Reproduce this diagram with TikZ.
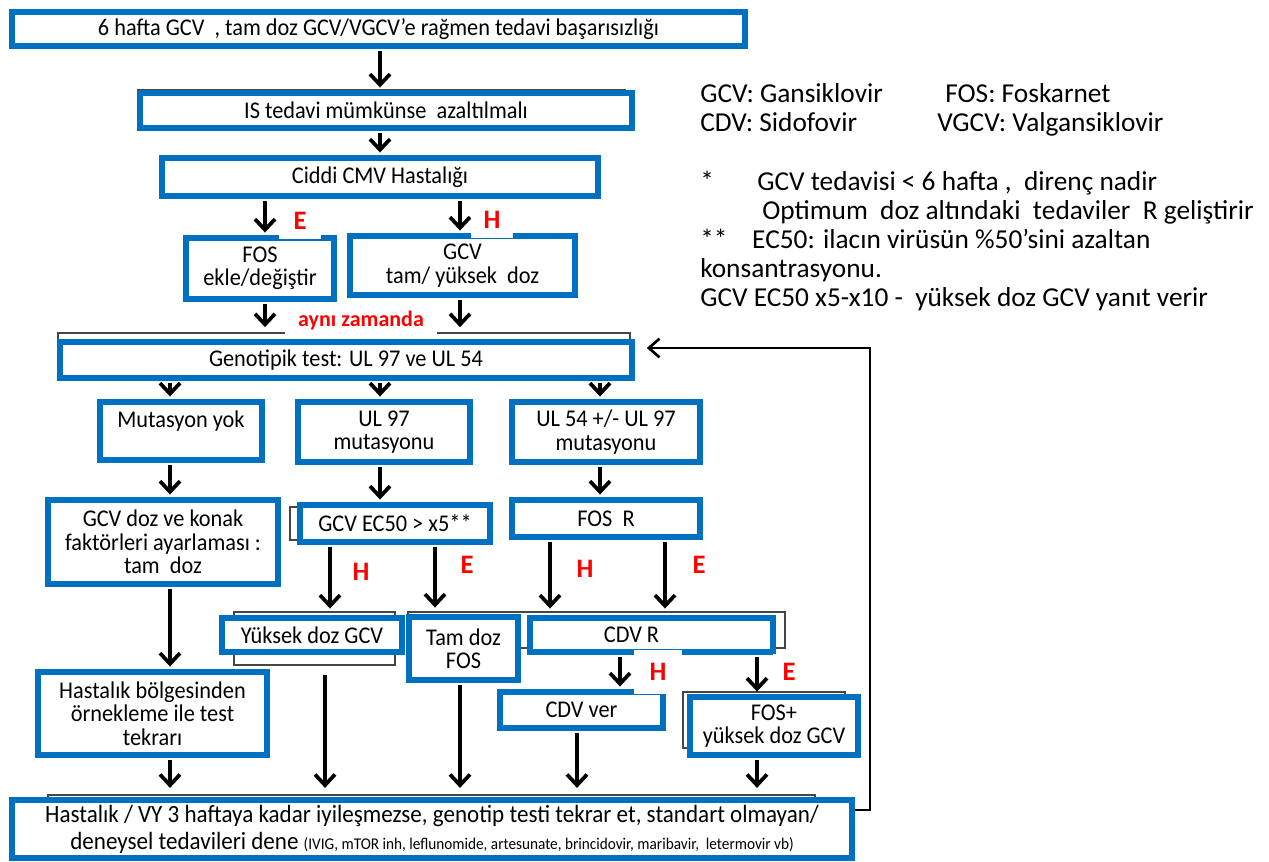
\documentclass[tikz,border=0pt]{standalone}
\usepackage{fontspec}
\setmainfont{Carlito}
\newfontfamily\boxfont{Carlito}[FakeStretch=0.93]
\usetikzlibrary{arrows.meta,calc}
\definecolor{bblue}{RGB}{0,112,192}
\definecolor{artg}{RGB}{70,70,70}
\definecolor{lred}{RGB}{255,0,0}
\newcommand\bx[7][]{\node[box,#1,minimum width={(#5-#3)*0.75pt},minimum height={(#6-#4)*0.75pt}] (#2) at ({(#3+#5)/2},{(#4+#6)/2}) {#7};}
\begin{document}
\begin{tikzpicture}[x=0.75pt,y=-0.75pt,
 box/.style={draw=bblue, line width=4.2pt, fill=white, inner sep=0pt, align=center, font=\boxfont\fontsize{18}{17.5}\selectfont},
 ghost/.style={draw=artg, line width=1pt},
 arr/.style={-{Straight Barb[length=8pt,width=15pt]}, line width=2.8pt, shorten <=2pt, shorten >=2pt},
 fb/.style={-{Straight Barb[length=8pt,width=14pt,line width=2pt]}, line width=2pt},
 lab/.style={text=lred, font=\bfseries\fontsize{20}{20}\selectfont, fill=white, minimum width=31.5pt, minimum height=27pt, inner sep=0pt},
 leg/.style={anchor=base west, inner sep=0pt, font=\fontsize{20.5}{22}\selectfont}
]
\useasboundingbox[fill=white] (0,0) rectangle (1269,861);

% faint frames behind some boxes
\draw[ghost] (138,90) rectangle (625,126);
\draw[ghost] (58,333) rectangle (630,372);
\draw[ghost] (98,404) rectangle (255,457);
\draw[ghost] (510,404) rectangle (695,460);
\draw[ghost] (290,507) rectangle (480,540);
\draw[ghost] (234,612) rectangle (395,665);
\draw[ghost] (408,612) rectangle (785,648);
\draw[ghost] (683,692) rectangle (845,748);
\draw[ghost] (48,795) rectangle (815,835);

% column coordinates
\coordinate (xA) at (170,0);
\coordinate (xB) at (265,0);
\coordinate (xC) at (460,0);
\coordinate (xD) at (380,0);
\coordinate (xE) at (330,0);
\coordinate (xF) at (435,0);
\coordinate (xG) at (550,0);
\coordinate (xH) at (665,0);
\coordinate (xI) at (620,0);
\coordinate (xJ) at (757,0);
\coordinate (xK) at (577,0);
\coordinate (xL) at (325,0);
\coordinate (xM) at (600,0);
\coordinate (fbx) at (870,600);

% boxes
\bx{b1}{12}{12}{745}{46}{6 hafta GCV~~, tam doz GCV/VGCV’e rağmen tedavi başarısızlığı}
\bx{b2}{140}{93}{632}{128}{IS tedavi mümkünse~ azaltılmalı}
\bx{b3}{162}{158}{598}{196}{Ciddi CMV Hastalığı}
\bx{fos}{186}{238}{334}{299}{FOS\\ekle/değiştir}
\bx{gcv}{350}{236}{575}{295}{GCV\\tam/ yüksek~ doz}
\bx{geno}{60}{342}{632}{378}{Genotipik test: UL 97 ve UL 54}
\bx{mut}{100}{402}{262}{460}{Mutasyon yok\\\mbox{}}
\bx{ul97}{298}{402}{470}{462}{UL 97\\mutasyonu}
\bx{ul54}{512}{402}{700}{462}{UL 54 +/- UL 97\\mutasyonu}
\bx{gcvdoz}{48}{500}{278}{584}{GCV doz ve konak\\faktörleri ayarlaması :\\tam~ doz}
\bx{ec50}{300}{505}{490}{542}{GCV EC50 > x5**}
\bx{fosr}{512}{500}{700}{537}{FOS~ R}
\bx{yuk}{222}{618}{402}{652}{Yüksek doz GCV}
\bx{tam}{409}{617}{518}{680}{Tam doz\\FOS}
\bx{cdvr}{530}{618}{773}{652}{CDV R\hspace*{30pt}}
\bx{hast}{38}{672}{267}{755}{Hastalık bölgesinden\\örnekleme ile test\\tekrarı}
\bx{cdvver}{500}{692}{663}{728}{CDV ver}
\bx{fosplus}{690}{697}{858}{755}{FOS+\\yüksek doz GCV}
\bx[font=\boxfont\fontsize{18.6}{20.25}\selectfont]{bot}{12}{800}{852}{858}{Hastalık / VY 3 haftaya kadar iyileşmezse, genotip testi tekrar et, standart olmayan/\\deneysel tedavileri dene {\fontsize{12.3}{14}\selectfont (IVIG, mTOR inh, leflunomide, artesunate, brincidovir, maribavir,~ letermovir vb)}}

% connectors
\draw[arr] (b1.south -| xD) -- (b2.north -| xD);
\draw[arr] (b2.south -| xD) -- (b3.north -| xD);
\draw[arr] (b3.south -| xB) -- (fos.north -| xB);
\draw[arr] (b3.south -| xC) -- (gcv.north -| xC);
\draw[arr, shorten >=9pt] (fos.south -| xB) -- (geno.north -| xB);
\draw[arr, shorten >=9pt] (gcv.south -| xC) -- (geno.north -| xC);
\draw[arr] (geno.south -| xA) -- (mut.north -| xA);
\draw[arr] (geno.south -| xD) -- (ul97.north -| xD);
\draw[arr] (geno.south -| xM) -- (ul54.north -| xM);
\draw[arr] (mut.south -| xA) -- (gcvdoz.north -| xA);
\draw[arr] (ul97.south -| xD) -- (ec50.north -| xD);
\draw[arr] (ul54.south -| xM) -- (fosr.north -| xM);
\draw[arr, shorten >=5pt] (ec50.south -| xE) -- (yuk.north -| xE);
\draw[arr, shorten >=5pt] (ec50.south -| xF) -- (tam.north -| xF);
\draw[arr, shorten >=5pt] (fosr.south -| xG) -- (cdvr.north -| xG);
\draw[arr, shorten >=5pt] (fosr.south -| xH) -- (cdvr.north -| xH);
\draw[arr] (gcvdoz.south -| xA) -- (hast.north -| xA);
\draw[arr] (cdvr.south -| xI) -- (cdvver.north -| xI);
\draw[arr] (cdvr.south -| xJ) -- (fosplus.north -| xJ);
\draw[arr, shorten >=7pt] (hast.south -| xA) -- (bot.north -| xA);
\draw[arr, shorten <=15pt, shorten >=7pt] (yuk.south -| xL) -- (bot.north -| xL);
\draw[arr, shorten >=7pt] (tam.south -| xC) -- (bot.north -| xC);
\draw[arr, shorten >=7pt] (cdvver.south -| xK) -- (bot.north -| xK);
\draw[arr, shorten >=7pt] (fosplus.south -| xJ) -- (bot.north -| xJ);
\draw[fb, shorten >=9pt] ([yshift=14.25pt]bot.east) -| (fbx) |- ([yshift=9pt]geno.east);

% branch labels
\node[lab] (lE1) at (300,221) {E};
\node[lab] (lH1) at (492,220) {H};
\node[lab, font=\bfseries\fontsize{16.5}{16.5}\selectfont, minimum width=114pt, minimum height=24pt] (same) at (361,321) {aynı zamanda};
\node[lab, fill=none] (lH2) at (361,572) {H};
\node[lab, fill=none] (lE2) at (467,565) {E};
\node[lab, fill=none] (lH3) at (585,569) {H};
\node[lab, fill=none] (lE3) at (699,565) {E};
\node[lab, minimum width=36pt, minimum height=33pt] (lH4) at (658,672) {H};
\node[lab, minimum width=24pt] (lE4) at (789,672) {E};

% legend
\node[leg] (g1) at (700,102) {GCV: Gansiklovir};
\node[leg] (g2) at (945,102) {FOS: Foskarnet};
\node[leg] (g3) at (700,131) {CDV: Sidofovir};
\node[leg] (g4) at (937,131) {VGCV: Valgansiklovir};
\node[leg] (n1) at (700,190) {*};
\node[leg] (n2) at (757,190) {GCV tedavisi < 6 hafta ,~ direnç nadir};
\node[leg] (n3) at (762,219) {Optimum~ doz altındaki~ tedaviler~ R geliştirir};
\node[leg] (n4) at (700,248) {**~~~ EC50: ilacın virüsün \%50’sini azaltan};
\node[leg] (n5) at (700,277) {konsantrasyonu.};
\node[leg] (n6) at (700,306) {GCV EC50 x5-x10 -~ yüksek doz GCV yanıt verir};
\end{tikzpicture}
\end{document}
